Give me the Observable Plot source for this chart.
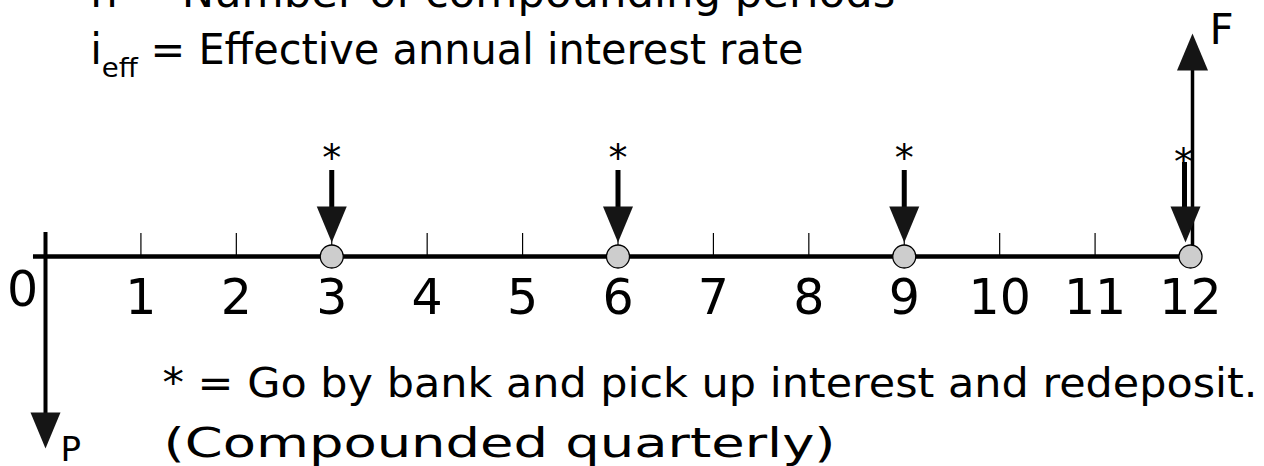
<!DOCTYPE html>
<html>
<head>
<meta charset="utf-8">
<script src="https://cdn.jsdelivr.net/npm/d3@7"></script>
<script src="https://cdn.jsdelivr.net/npm/@observablehq/plot@0.6"></script>
<style>
  html, body { margin: 0; padding: 0; background: #ffffff; }
  #chart svg { display: block; overflow: visible; }
</style>
</head>
<body>
<div id="chart"></div>
<script>
// ---- data ----
const periods = [0, 1, 2, 3, 4, 5, 6, 7, 8, 9, 10, 11, 12];
const periodLabels = ["0", "1", "2", "3", "4", "5", "6", "7", "8", "9", "10", "11", "12"];
const tickPeriods = [1, 2, 3, 4, 5, 6, 7, 8, 9, 10, 11];
const depositPeriods = [3, 6, 9, 12];          // "*" interest pick-up points
const depositArrowTop = [0.86, 0.86, 0.86, 0.94];
const depositArrowTip = [0.14, 0.14, 0.14, 0.14];
const cashFlowLabels = ["P", "F"];
const cashFlowPeriods = [0, 12];
const cashFlowAmounts = [-1.92, 2.23];
const titleLines = ["n = Number of compounding periods", "= Effective annual interest rate"];
const captionLines = ["* = Go by bank and pick up interest and redeposit.", "(Compounded quarterly)"];

const deposits = depositPeriods.map((p, i) => ({period: p, top: depositArrowTop[i], tip: depositArrowTip[i]}));
const flows = cashFlowLabels.map((l, i) => ({label: l, period: cashFlowPeriods[i], amount: cashFlowAmounts[i]}));
const labels = periods.map((p, i) => ({period: p, label: periodLabels[i]}));

// filled triangular arrow heads (tip at the anchor point)
function head(w, l, dir) {
  return {draw(ctx) { ctx.moveTo(0, 0); ctx.lineTo(-w / 2, -dir * l); ctx.lineTo(w / 2, -dir * l); ctx.closePath(); }};
}
const headDown = head(30, 36, 1);
const headUp = head(31, 37, -1);

const FONT = "DejaVu Sans";
const ink = "#000000";
const headInk = "#151515";

const regular = deposits.filter(d => d.period !== 12);
const last = deposits.filter(d => d.period === 12);
const P = flows.filter(d => d.label === "P");
const F = flows.filter(d => d.label === "F");

const chart = Plot.plot({
  width: 1264,
  height: 466,
  marginTop: 0, marginBottom: 0, marginLeft: 45, marginRight: 74,
  style: {fontFamily: FONT, background: "#ffffff", color: ink},
  x: {domain: [0, 12], axis: null},
  y: {domain: [-2.10, 2.56], axis: null},
  marks: [
    // time line
    Plot.ruleY([0], {x1: -0.126, x2: 12, stroke: ink, strokeWidth: 4.5}),
    Plot.ruleX(tickPeriods, {x: d => d, y1: 0, y2: 0.23, stroke: ink, strokeWidth: 1.2}),
    // P (present value) arrow down from period 0
    Plot.ruleX(P, {x: "period", y1: 0.24, y2: d => d.amount + 0.25, stroke: ink, strokeWidth: 4}),
    // F (future value) arrow up at period 12
    Plot.ruleX(F, {x: "period", y1: 0, y2: d => d.amount - 0.25, stroke: ink, strokeWidth: 3.5, dx: 2}),
    // interest pick-up arrows
    Plot.ruleX(regular, {x: "period", y1: "top", y2: d => d.tip + 0.3, stroke: ink, strokeWidth: 5}),
    Plot.ruleX(last, {x: "period", y1: "top", y2: d => d.tip + 0.3, stroke: ink, strokeWidth: 5, dx: -6}),
    // compounding points
    Plot.dot(depositPeriods, {x: d => d, y: 0, r: 11.5, fill: "#cdcdcd", stroke: ink, strokeWidth: 1.3}),
    // heads
    Plot.dot(regular, {x: "period", y: "tip", symbol: headDown, fill: headInk, stroke: "none"}),
    Plot.dot(last, {x: "period", y: "tip", symbol: headDown, fill: headInk, stroke: "none", dx: -5}),
    Plot.dot(P, {x: "period", y: "amount", symbol: headDown, fill: headInk, stroke: "none"}),
    Plot.dot(F, {x: "period", y: "amount", symbol: headUp, fill: headInk, stroke: "none", dx: 2}),
    // stars
    Plot.text(regular, {x: "period", y: 0.86, text: () => "*", fontSize: 38, lineAnchor: "bottom", fill: ink}),
    Plot.text(last, {x: "period", y: 0.82, text: () => "*", fontSize: 38, lineAnchor: "bottom", fill: ink, dx: -7}),
    // period labels
    Plot.text(labels.filter(d => d.period !== 0), {x: "period", y: -0.57, text: "label", fontSize: 49, lineAnchor: "bottom", fill: ink}),
    Plot.text(labels.filter(d => d.period === 0), {x: "period", y: -0.49, text: "label", fontSize: 49, lineAnchor: "bottom", fill: ink, dx: -23}),
    // P / F labels
    Plot.text(P, {x: "period", y: -2.04, text: "label", fontSize: 34, lineAnchor: "bottom", textAnchor: "start", fill: ink, dx: 15}),
    Plot.text(F, {x: "period", y: 2.13, text: "label", fontSize: 42, lineAnchor: "bottom", textAnchor: "start", fill: ink, dx: 19}),
    // definitions at top
    Plot.text([titleLines[0]], {x: 0.47, y: 2.50, text: d => d, fontSize: 42, lineAnchor: "bottom", textAnchor: "start", fill: ink}),
    Plot.text(["i"], {x: 0.47, y: 1.93, text: d => d, fontSize: 42, lineAnchor: "bottom", textAnchor: "start", fill: ink}),
    Plot.text(["eff"], {x: 0.59, y: 1.80, text: d => d, fontSize: 27, lineAnchor: "bottom", textAnchor: "start", fill: ink}),
    Plot.text([titleLines[1]], {x: 1.10, y: 1.93, text: d => d, fontSize: 42, lineAnchor: "bottom", textAnchor: "start", fill: ink}),
    // caption lines
    Plot.text([captionLines[0]], {x: 1.226, y: -1.40, text: d => d, fontSize: 41, lineAnchor: "bottom", textAnchor: "start", fill: ink}),
    Plot.text([captionLines[1]], {x: 1.237, y: -2.00, text: d => d, fontSize: 41, lineAnchor: "bottom", textAnchor: "start", fill: ink})
  ]
});

// fit the long text lines to the widths they occupy in the reference
const fitWidths = new Map([
  [titleLines[0], 805],
  [titleLines[1], 653],
  ["eff", 36],
  [captionLines[0], 1095],
  [captionLines[1], 672]
]);
d3.select(chart).selectAll("text").each(function () {
  const w = fitWidths.get(this.textContent);
  if (w) {
    this.setAttribute("textLength", w);
    this.setAttribute("lengthAdjust", "spacingAndGlyphs");
  }
});

document.getElementById("chart").appendChild(chart);
</script>
</body>
</html>
